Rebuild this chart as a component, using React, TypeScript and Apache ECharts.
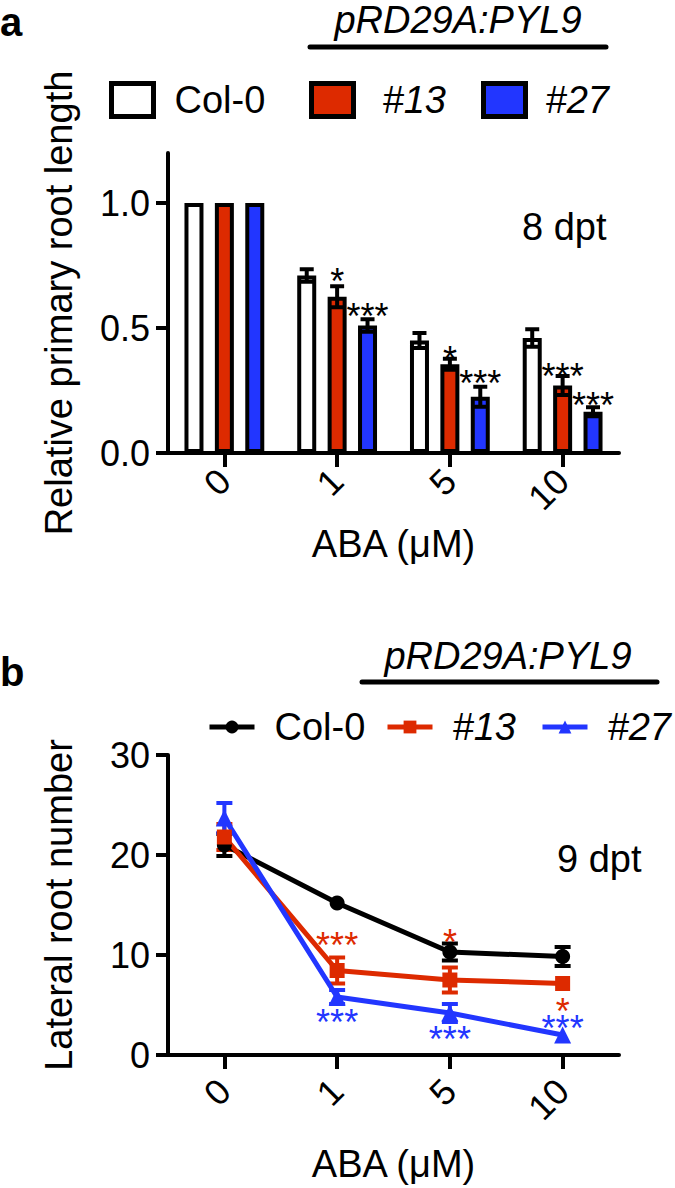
import React, { useEffect, useRef } from "react";
import * as echarts from "echarts";

const FONT = "'Liberation Sans', Arial, Helvetica, sans-serif";

// Shared categories (ABA concentration, µM)
const categories = ["0", "1", "5", "10"];

// Panel a: relative primary root length (8 dpt)
const col0Rel = [1.0, 0.71, 0.45, 0.46];
const col0RelErr = [0, 0.025, 0.03, 0.035];
const l13Rel = [1.0, 0.625, 0.355, 0.27];
const l13RelErr = [0, 0.042, 0.022, 0.038];
const l27Rel = [1.0, 0.51, 0.225, 0.165];
const l27RelErr = [0, 0.025, 0.04, 0.018];
const sigA13 = ["", "*", "*", "***"];
const sigA13Y = [0, 0.717, 0.406, 0.339];
const sigA27 = ["", "***", "***", "***"];
const sigA27Y = [0, 0.578, 0.311, 0.223];
const relTicks = [0, 0.5, 1.0];

// Panel b: lateral root number (9 dpt)
const col0LR = [21.0, 15.2, 10.3, 9.85];
const col0LRErr = [1.1, 0, 0.85, 0.95];
const l13LR = [21.8, 8.45, 7.5, 7.15];
const l13LRErr = [1.3, 1.3, 1.25, 0];
const l27LR = [23.7, 5.8, 4.2, 2.0];
const l27LRErr = [1.5, 0.7, 0.9, 0];
const sigB13 = ["", "***", "*", "*"];
const sigB13Y = [0, 11.8, 12.1, 5.2];
const sigB27 = ["", "***", "***", "***"];
const sigB27Y = [0, 4.1, 2.4, 3.5];
const lrTicks = [0, 10, 20, 30];

const RED = "#DD2A00";
const BLUE = "#2236FF";
const BAR_W = 19;
const BAR_GAP = 0.6;
const BAR_STEP = BAR_W * (1 + BAR_GAP);
const STAR_SIZE = 36;

function errSeries(vals: number[], errs: number[], offset: number, color: string, lw: number, capHalf: number, z: number) {
  return {
    type: "custom",
    z,
    silent: true,
    data: categories.map((_, i) => [i, vals[i], errs[i]]),
    renderItem: (params: any, api: any) => {
      const i = api.value(0);
      const v = api.value(1);
      const e = api.value(2);
      if (!e) return null;
      const c = api.coord([i, v]);
      const x = c[0] + offset;
      const yt = api.coord([i, v + e])[1];
      const yb = api.coord([i, v - e])[1];
      const st = { stroke: color, lineWidth: lw };
      return {
        type: "group",
        children: [
          { type: "line", shape: { x1: x, y1: yt, x2: x, y2: yb }, style: st },
          { type: "line", shape: { x1: x - capHalf, y1: yt, x2: x + capHalf, y2: yt }, style: st },
          { type: "line", shape: { x1: x - capHalf, y1: yb, x2: x + capHalf, y2: yb }, style: st },
        ],
      };
    },
  };
}

function starText(x: number, y: number, text: string, color: string) {
  return {
    type: "text",
    x,
    y: y + 8,
    style: {
      text,
      fill: color,
      fontSize: STAR_SIZE,
      fontFamily: FONT,
      align: "center",
      verticalAlign: "middle",
      textAlign: "center",
      textVerticalAlign: "middle",
    },
  };
}

function sigSeries(labels: string[], ys: number[], offset: number, color: string, z: number) {
  return {
    type: "custom",
    z,
    silent: true,
    data: categories.map((_, i) => [i, ys[i]]),
    renderItem: (params: any, api: any) => {
      const i = params.dataIndex;
      const t = labels[i];
      if (!t) return null;
      const c = api.coord([i, ys[i]]);
      return starText(c[0] + offset, c[1], t, color);
    },
  };
}

// Two stacked significance marks (upper / lower); when they sit very close they share one text block.
function sigPairSeries(upL: string[], upY: number[], upC: string, loL: string[], loY: number[], loC: string, z: number) {
  return {
    type: "custom",
    z,
    silent: true,
    data: categories.map((_, i) => [i, upY[i]]),
    renderItem: (params: any, api: any) => {
      const i = params.dataIndex;
      const kids: any[] = [];
      const hasU = !!upL[i];
      const hasL = !!loL[i];
      const cu = api.coord([i, upY[i]]);
      const cl = api.coord([i, loY[i]]);
      if (hasU && hasL && Math.abs(cl[1] - cu[1]) < 30) {
        const gap = Math.abs(cl[1] - cu[1]);
        const mid = (cu[1] + cl[1]) / 2;
        kids.push({
          type: "text",
          x: cu[0],
          y: mid + 8,
          style: {
            text: `{u|${upL[i]}}\n{l|${loL[i]}}`,
            fontSize: STAR_SIZE,
            fontFamily: FONT,
            align: "center",
            verticalAlign: "middle",
            textAlign: "center",
            textVerticalAlign: "middle",
            rich: {
              u: { fill: upC, color: upC, fontSize: STAR_SIZE, fontFamily: FONT, lineHeight: gap, align: "center" },
              l: { fill: loC, color: loC, fontSize: STAR_SIZE, fontFamily: FONT, lineHeight: gap, align: "center" },
            },
          },
        });
      } else {
        if (hasU) kids.push(starText(cu[0], cu[1], upL[i], upC));
        if (hasL) kids.push(starText(cl[0], cl[1], loL[i], loC));
      }
      if (!kids.length) return null;
      return { type: "group", children: kids };
    },
  };
}

function xAxisCfg(labelMargin: number, nameGap: number) {
  return {
    type: "category",
    data: categories,
    boundaryGap: true,
    axisLine: { show: true, lineStyle: { color: "#000", width: 4 } },
    axisTick: { show: true, alignWithLabel: true, length: 14, lineStyle: { color: "#000", width: 4 } },
    axisLabel: { rotate: 45, fontSize: 36, color: "#000", fontFamily: FONT, margin: labelMargin },
    name: "ABA (μM)",
    nameLocation: "middle",
    nameGap,
    nameTextStyle: { fontSize: 38, color: "#000", fontFamily: FONT },
  };
}

function yAxisCfg(max: number, ticks: number[], fmt: (v: number) => string, name: string) {
  return {
    type: "value",
    min: 0,
    max,
    splitLine: { show: false },
    axisLine: { show: true, lineStyle: { color: "#000", width: 4 } },
    axisTick: { show: true, length: 12, lineStyle: { color: "#000", width: 4 }, customValues: ticks },
    axisLabel: { fontSize: 36, color: "#000", fontFamily: FONT, margin: 18, customValues: ticks, formatter: fmt },
    name,
    nameLocation: "middle",
    nameRotate: 90,
    nameGap: 90,
    nameTextStyle: { fontSize: 38, color: "#000", fontFamily: FONT },
  };
}

function headerGraphics(cx: number, textY: number, lineY: number, x1: number, x2: number, letter: string, letterY: number) {
  return [
    {
      type: "text",
      left: 0,
      top: letterY,
      style: { text: letter, fontSize: 40, fontWeight: "bold", fontFamily: FONT, fill: "#000" },
    },
    {
      type: "text",
      x: cx,
      y: textY,
      style: {
        text: "pRD29A:PYL9",
        fontSize: 38,
        fontStyle: "italic",
        fontFamily: FONT,
        fill: "#000",
        align: "center",
        verticalAlign: "middle",
        textAlign: "center",
        textVerticalAlign: "middle",
      },
    },
    {
      type: "line",
      shape: { x1, y1: lineY, x2, y2: lineY },
      style: { stroke: "#000", lineWidth: 5, lineCap: "round" },
    },
  ];
}

function legendA(name: string, left: number, pad: number, italic: boolean) {
  return {
    data: [name],
    left,
    top: 81,
    padding: 0,
    icon: "rect",
    itemWidth: 42,
    itemHeight: 33,
    selectedMode: false,
    itemStyle: { borderColor: "#000", borderWidth: 5 },
    textStyle: {
      fontSize: 38,
      color: "#000",
      fontFamily: FONT,
      fontStyle: italic ? "italic" : "normal",
      padding: [0, 0, 0, pad],
    },
  };
}

function legendB(name: string, left: number, italic: boolean) {
  return {
    data: [name],
    left,
    top: 108,
    padding: 0,
    itemWidth: 45,
    itemHeight: 16,
    selectedMode: false,
    lineStyle: { width: 5 },
    textStyle: {
      fontSize: 38,
      color: "#000",
      fontFamily: FONT,
      fontStyle: italic ? "italic" : "normal",
      padding: [0, 0, 0, 15],
    },
  };
}

function optionA() {
  return {
    animation: false,
    backgroundColor: "#fff",
    grid: { left: 168, top: 153, width: 451, height: 300 },
    legend: [
      legendA("Col-0", 109, 16, false),
      legendA("#13", 309, 24, true),
      legendA("#27", 481, 15, true),
    ],
    xAxis: xAxisCfg(22, 72),
    yAxis: yAxisCfg(1.2, relTicks, (v: number) => v.toFixed(1), "Relative primary root length"),
    graphic: [
      ...headerGraphics(458, 20, 47, 310, 606, "a", 2),
      {
        type: "text",
        left: 522,
        top: 208,
        style: { text: "8 dpt", fontSize: 38, fontFamily: FONT, fill: "#000" },
      },
    ],
    series: [
      { type: "bar", name: "Col-0", data: col0Rel, barWidth: BAR_W, barGap: `${BAR_GAP * 100}%`, itemStyle: { color: "#fff", borderColor: "#000", borderWidth: 4 } },
      { type: "bar", name: "#13", data: l13Rel, barWidth: BAR_W, barGap: `${BAR_GAP * 100}%`, itemStyle: { color: RED, borderColor: "#000", borderWidth: 4 } },
      { type: "bar", name: "#27", data: l27Rel, barWidth: BAR_W, barGap: `${BAR_GAP * 100}%`, itemStyle: { color: BLUE, borderColor: "#000", borderWidth: 4 } },
      errSeries(col0Rel, col0RelErr, -BAR_STEP, "#000", 4, 7, 5),
      errSeries(l13Rel, l13RelErr, 0, "#000", 4, 7, 5),
      errSeries(l27Rel, l27RelErr, BAR_STEP, "#000", 4, 7, 5),
      sigSeries(sigA13, sigA13Y, 0, "#000", 6),
      sigSeries(sigA27, sigA27Y, BAR_STEP, "#000", 6),
    ],
  };
}

function optionB() {
  return {
    animation: false,
    backgroundColor: "#fff",
    grid: { left: 168, top: 155, width: 451, height: 302 },
    legend: [
      legendB("Col-0", 207, false),
      legendB("#13", 385, true),
      legendB("#27", 540, true),
    ],
    xAxis: xAxisCfg(30, 90),
    yAxis: yAxisCfg(30, lrTicks, (v: number) => String(v), "Lateral root number"),
    graphic: [
      ...headerGraphics(508, 56, 82, 362, 657, "b", 52),
      {
        type: "text",
        left: 557,
        top: 240,
        style: { text: "9 dpt", fontSize: 38, fontFamily: FONT, fill: "#000" },
      },
    ],
    series: [
      errSeries(col0LR, col0LRErr, 0, "#000", 4, 8, 2),
      errSeries(l13LR, l13LRErr, 0, RED, 4, 8, 2),
      errSeries(l27LR, l27LRErr, 0, BLUE, 4, 8, 2),
      { type: "line", name: "Col-0", data: col0LR, z: 3, symbol: "circle", symbolSize: 15, lineStyle: { color: "#000", width: 5 }, itemStyle: { color: "#000" } },
      { type: "line", name: "#13", data: l13LR, z: 3, symbol: "rect", symbolSize: 15, lineStyle: { color: RED, width: 5 }, itemStyle: { color: RED } },
      { type: "line", name: "#27", data: l27LR, z: 3, symbol: "triangle", symbolSize: 17, lineStyle: { color: BLUE, width: 5 }, itemStyle: { color: BLUE } },
      sigPairSeries(sigB13, sigB13Y, RED, sigB27, sigB27Y, BLUE, 6),
    ],
  };
}

export default function App() {
  const refA = useRef<HTMLDivElement>(null);
  const refB = useRef<HTMLDivElement>(null);
  useEffect(() => {
    document.body.style.margin = "0";
    const a = echarts.init(refA.current!, undefined, { renderer: "svg" });
    const b = echarts.init(refB.current!, undefined, { renderer: "svg" });
    a.setOption(optionA() as any);
    b.setOption(optionB() as any);
    return () => {
      a.dispose();
      b.dispose();
    };
  }, []);
  return (
    <div style={{ width: 675, height: 1188, background: "#fff" }}>
      <div ref={refA} style={{ width: 675, height: 600 }} />
      <div ref={refB} style={{ width: 675, height: 588 }} />
    </div>
  );
}
